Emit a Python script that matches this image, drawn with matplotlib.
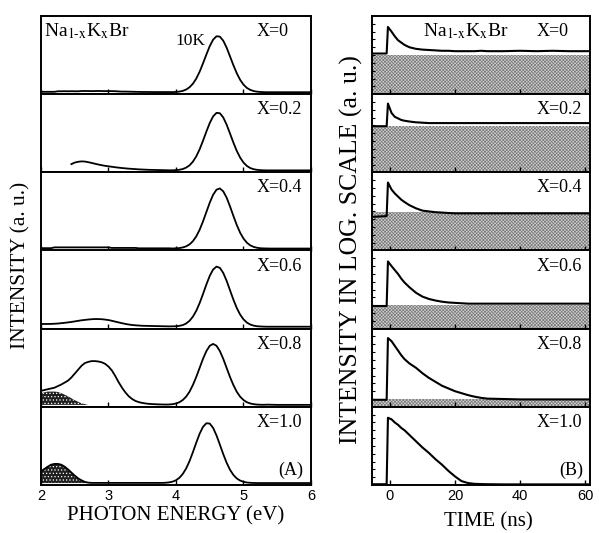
import numpy as np
import matplotlib.pyplot as plt

plt.rcParams['font.family'] = ['Liberation Serif', 'DejaVu Serif']
plt.rcParams['mathtext.fontset'] = 'stix'
plt.rcParams['hatch.linewidth'] = 0.5

# composition labels, top row first
comp_labels = ['X=0', 'X=0.2', 'X=0.4', 'X=0.6', 'X=0.8', 'X=1.0']

# ---- (A) emission spectra, photon energy grid 2.00 ... 6.00 eV, step 0.05 ----
energy = np.round(np.arange(2.0, 6.001, 0.05), 2)
nan = np.nan

spec_x00 = ([0.005, 0.005, 0.005, 0.005, 0.005, 0.012, 0.012, 0.013, 0.012, 0.013,
             0.012, 0.012, 0.015, 0.016, 0.015, 0.014, 0.015, 0.016, 0.015, 0.014,
             0.015, 0.014, 0.013, 0.010, 0.008, 0.008, 0.007, 0.006, 0.005, 0.004,
             0.003, 0.003, 0.003, 0.002, 0.002, 0.002, 0.002, 0.002, 0.002,
             0.001, 0.004, 0.008, 0.017, 0.034, 0.063, 0.108, 0.174, 0.262, 0.369,
             0.482, 0.590, 0.672, 0.716, 0.711, 0.659, 0.570, 0.459, 0.346, 0.243,
             0.159, 0.097, 0.055, 0.030, 0.015, 0.007, 0.003, 0.001]
            + [0.0] * 14)
spec_x02 = ([nan] * 9
            + [0.080, 0.100, 0.110, 0.115, 0.113, 0.105, 0.095, 0.085, 0.075, 0.066,
               0.058, 0.052, 0.046, 0.040, 0.035, 0.030, 0.026, 0.022, 0.019, 0.016,
               0.013, 0.011, 0.009, 0.007, 0.006, 0.005, 0.004, 0.003, 0.002, 0.001,
               0.001, 0.004, 0.008, 0.017, 0.035, 0.064, 0.111, 0.179, 0.269, 0.379,
               0.496, 0.606, 0.691, 0.736, 0.731, 0.677, 0.585, 0.472, 0.356, 0.250,
               0.164, 0.100, 0.057, 0.030, 0.015, 0.007, 0.003, 0.001]
            + [0.0] * 14)
spec_x04 = ([0.005] * 4 + [0.015] * 17 + [0.008] * 8 + [0.003] * 10
            + [0.001, 0.003, 0.006, 0.014, 0.028, 0.053, 0.094, 0.155, 0.240, 0.347,
               0.467, 0.587, 0.688, 0.753, 0.769, 0.732, 0.651, 0.540, 0.418, 0.302,
               0.203, 0.128, 0.075, 0.041, 0.021, 0.010, 0.004, 0.002, 0.001]
            + [0.0] * 13)
spec_x06 = ([0.035, 0.035, 0.035, 0.036, 0.038, 0.041, 0.045, 0.050, 0.055, 0.061,
             0.068, 0.075, 0.082, 0.087, 0.092, 0.096, 0.098, 0.098, 0.096, 0.091,
             0.085, 0.076, 0.065, 0.055, 0.045, 0.036, 0.028, 0.022, 0.018, 0.015,
             0.012, 0.011, 0.010, 0.009, 0.008, 0.007, 0.006, 0.005, 0.004,
             0.005, 0.006, 0.011, 0.021, 0.041, 0.075, 0.128, 0.203, 0.302, 0.418,
             0.540, 0.651, 0.732, 0.769, 0.753, 0.688, 0.587, 0.467, 0.347, 0.240,
             0.155, 0.094, 0.053, 0.028, 0.014, 0.006, 0.003, 0.001]
            + [0.0] * 14)
spec_x08 = ([0.180, 0.190, 0.200, 0.210, 0.220, 0.240, 0.260, 0.285, 0.310, 0.350,
             0.400, 0.450, 0.500, 0.535, 0.550, 0.560, 0.560, 0.555, 0.545, 0.525,
             0.490, 0.440, 0.370, 0.290, 0.220, 0.160, 0.110, 0.075, 0.050, 0.035,
             0.025, 0.018, 0.013, 0.010, 0.008, 0.006, 0.005, 0.004, 0.005,
             0.009, 0.018, 0.034, 0.062, 0.105, 0.168, 0.254, 0.357, 0.473, 0.589,
             0.688, 0.756, 0.780, 0.756, 0.688, 0.589, 0.473, 0.357, 0.254, 0.168,
             0.105, 0.062, 0.034, 0.018, 0.009, 0.004, 0.002, 0.001,
             0.003, 0.002, 0.001]
            + [0.0] * 11)
spec_x10 = ([0.150, 0.180, 0.210, 0.235, 0.245, 0.245, 0.235, 0.210, 0.175, 0.135,
             0.095, 0.060, 0.035, 0.015, 0.005]
            + [0.002] * 22
            + [0.004, 0.009,
               0.018, 0.036, 0.067, 0.116, 0.186, 0.280, 0.394, 0.516, 0.631, 0.719,
               0.765, 0.761, 0.705, 0.609, 0.491, 0.370, 0.260, 0.170, 0.104, 0.059,
               0.032, 0.016, 0.007, 0.003, 0.001]
            + [0.0] * 17)
spectra = [spec_x00, spec_x02, spec_x04, spec_x06, spec_x08, spec_x10]

# hatched low-energy bands (X=0.8 and X=1.0)
band_energy = [2.0, 2.05, 2.1, 2.15, 2.2, 2.25, 2.3, 2.35, 2.4, 2.45, 2.5, 2.55, 2.6, 2.65, 2.7]
band_x08 = [0.15, 0.16, 0.17, 0.17, 0.17, 0.165, 0.15, 0.13, 0.11, 0.085, 0.06, 0.04, 0.02, 0.01, 0.0]
band_x10 = [0.15, 0.18, 0.21, 0.235, 0.245, 0.245, 0.235, 0.21, 0.175, 0.135, 0.095, 0.06, 0.035, 0.015, 0.005]
bands = {4: band_x08, 5: band_x10}

# ---- (B) decay curves, log intensity (fraction of panel) vs time in ns ----
time_ns = [-5.5, -1.0, -0.6, 0.5, 1.5, 2.5, 3.5, 4.5, 6, 8, 10, 12, 14, 16, 18, 20,
           22, 24, 26, 28, 30, 35, 40, 45, 50, 55, 61.5]
decay_x00 = [0.52, 0.52, 0.86, 0.80, 0.74, 0.69, 0.66, 0.63, 0.60, 0.58, 0.57, 0.565, 0.56,
             0.555, 0.555, 0.55, 0.55, 0.55, 0.55, 0.555, 0.55, 0.55, 0.555, 0.55, 0.555, 0.55, 0.55]
decay_x02 = [0.59, 0.59, 0.88, 0.76, 0.71, 0.69, 0.67, 0.66, 0.65, 0.64, 0.635, 0.63, 0.63,
             0.63, 0.63, 0.63, 0.63, 0.63, 0.63, 0.63, 0.63, 0.63, 0.63, 0.63, 0.63, 0.63, 0.63]
decay_x04 = [0.43, 0.44, 0.87, 0.78, 0.73, 0.69, 0.65, 0.62, 0.58, 0.54, 0.51, 0.50, 0.49,
             0.485, 0.48, 0.475, 0.475, 0.475, 0.475, 0.475, 0.475, 0.475, 0.475, 0.475, 0.475, 0.475, 0.475]
decay_x06 = [0.29, 0.29, 0.86, 0.80, 0.75, 0.70, 0.64, 0.59, 0.53, 0.46, 0.41, 0.38, 0.36,
             0.345, 0.335, 0.33, 0.325, 0.32, 0.32, 0.32, 0.32, 0.32, 0.32, 0.32, 0.32, 0.32, 0.32]
decay_x08 = [0.09, 0.09, 0.88, 0.84, 0.78, 0.72, 0.66, 0.61, 0.555, 0.50, 0.43, 0.37, 0.32,
             0.27, 0.235, 0.20, 0.175, 0.15, 0.13, 0.115, 0.105, 0.10, 0.095, 0.095, 0.095, 0.095, 0.095]
decay_x10 = [0.01, 0.01, 0.86, 0.84, 0.80, 0.77, 0.73, 0.70, 0.64, 0.56, 0.48, 0.41, 0.33,
             0.26, 0.18, 0.11, 0.05, 0.025, 0.015, 0.012, 0.01, 0.008, 0.008, 0.008, 0.008, 0.008, 0.008]
decays = [decay_x00, decay_x02, decay_x04, decay_x06, decay_x08, decay_x10]
background = [0.50, 0.59, 0.49, 0.30, 0.10, 0.0]

fig = plt.figure(figsize=(5.99, 5.33), dpi=100)

W, H = 599.0, 533.0
row_h = (485 - 16) / 6.0

for k in range(6):
    bottom = (H - 485 + (5 - k) * row_h) / H

    # left column: spectra
    ax = fig.add_axes([41 / W, bottom, 270 / W, row_h / H])
    ax.plot(energy, spectra[k], color='black', lw=1.3)
    if k in bands:
        ax.fill_between(band_energy, 0, bands[k], facecolor='0.12', edgecolor='white',
                        hatch='.....', lw=0)
    ax.set_xlim(2, 6)
    ax.set_ylim(-0.025, 0.975)
    ax.set_yticks([])
    ax.set_xticks([2, 3, 4, 5, 6])
    ax.tick_params(axis='x', direction='in', length=3.5, width=1,
                   labelbottom=(k == 5), labelsize=10.5, pad=3)
    for s in ax.spines.values():
        s.set_linewidth(1.4)
    ax.text(0.80, 0.80, comp_labels[k], transform=ax.transAxes, fontsize=13,
            ha='left', va='center')
    if k == 0:
        ax.text(0.012, 0.80, r'Na$_{\rm 1\text{-}x}$K$_{\rm x}$Br', transform=ax.transAxes,
                fontsize=14, ha='left', va='center')
        ax.text(4.21, 0.66, '10K', fontsize=12.5, ha='center', va='center')
    if k == 5:
        ax.text(0.97, 0.19, '(A)', transform=ax.transAxes, fontsize=13,
                ha='right', va='center')
        for lab in ax.get_xticklabels():
            lab.set_fontfamily('Liberation Sans')

    # right column: decays
    bx = fig.add_axes([372 / W, bottom, 218 / W, row_h / H])
    if background[k] > 0:
        bx.fill_between([-5.5, 61.5], 0, background[k], facecolor='#d2d2d2',
                        edgecolor='#7a7a7a', hatch='xxxxxxxxxx', lw=0)
    bx.plot(time_ns, decays[k], color='black', lw=1.5)
    bx.set_xlim(-5.5, 61.5)
    bx.set_ylim(0, 1)
    bx.set_xticks([0, 20, 40, 60])
    bx.set_yticks([0.1, 0.2, 0.3, 0.4, 0.5, 0.6, 0.7, 0.8, 0.9])
    bx.tick_params(axis='y', direction='in', length=2.5, width=0.8, labelleft=False)
    bx.tick_params(axis='x', direction='in', length=3.5, width=1,
                   labelbottom=(k == 5), labelsize=10.5, pad=3)
    for s in bx.spines.values():
        s.set_linewidth(1.4)
    bx.text(0.755, 0.80, comp_labels[k], transform=bx.transAxes, fontsize=13,
            ha='left', va='center')
    if k == 0:
        bx.text(0.43, 0.80, r'Na$_{\rm 1\text{-}x}$K$_{\rm x}$Br', transform=bx.transAxes,
                fontsize=14, ha='center', va='center')
    if k == 5:
        bx.text(0.97, 0.19, '(B)', transform=bx.transAxes, fontsize=13,
                ha='right', va='center')
        for lab in bx.get_xticklabels():
            lab.set_fontfamily('Liberation Sans')

fig.text(176 / W, 1 - 516 / H, 'PHOTON ENERGY (eV)', fontsize=15, ha='center', va='center')
fig.text(488 / W, 1 - 522 / H, 'TIME (ns)', fontsize=15, ha='center', va='center')
fig.text(21 / W, 1 - 265 / H, 'INTENSITY (a. u.)', fontsize=15.5, rotation=90,
         ha='center', va='center')
fig.text(351 / W, 1 - 250 / H, 'INTENSITY IN LOG. SCALE (a. u.)', fontsize=18.5,
         rotation=90, ha='center', va='center')

fig.savefig('out.png', dpi=100)
